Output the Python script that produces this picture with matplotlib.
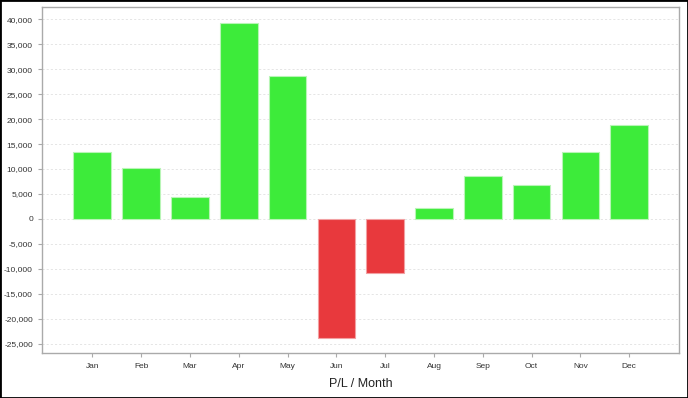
import matplotlib
matplotlib.use("Agg")
import matplotlib.pyplot as plt
from matplotlib.ticker import FuncFormatter, MultipleLocator
from matplotlib.patches import Rectangle

months = ['Jan', 'Feb', 'Mar', 'Apr', 'May', 'Jun', 'Jul', 'Aug', 'Sep', 'Oct', 'Nov', 'Dec']
pnl = [13370, 10240, 4340, 39280, 28640, -23770, -10780, 2270, 8630, 6750, 13450, 18880]

plt.rcParams['font.family'] = 'Liberation Sans'

fig = plt.figure(figsize=(6.88, 3.98), dpi=100)
ax = fig.add_axes([0.061, 0.1123, 0.926, 0.8694])

x = list(range(len(months)))
colors = ['#3deb3a' if v >= 0 else '#e8393d' for v in pnl]
edges = ['#b8f5b6' if v >= 0 else '#f2a0a2' for v in pnl]
ax.bar(x, pnl, width=0.77, color=colors, edgecolor=edges, linewidth=0.8, zorder=3)

ax.set_xlim(-1.03, 12.02)
ax.set_ylim(-26930, 42410)
ax.yaxis.set_major_locator(MultipleLocator(5000))
ax.yaxis.set_major_formatter(FuncFormatter(lambda v, p: f'{int(v):,}'))
ax.set_xticks(x)
ax.set_xticklabels(months)

ax.grid(axis='y', color='#e0e0e0', linestyle=(0, (2.5, 2.5)), linewidth=0.6, zorder=0)
for s in ax.spines.values():
    s.set_color('#aaaaaa')
    s.set_linewidth(1.0)
ax.tick_params(axis='both', colors='#aaaaaa', labelcolor='#333333', labelsize=6, length=3, width=0.8)
ax.tick_params(axis='x', pad=4)
ax.set_xlabel('P/L / Month', fontsize=9, color='#222222', labelpad=6)

fig.patches.append(Rectangle((0, 0), 1, 1, transform=fig.transFigure, fill=False,
                             edgecolor='black', linewidth=2.0, zorder=10))

fig.savefig('out.png', dpi=100)
